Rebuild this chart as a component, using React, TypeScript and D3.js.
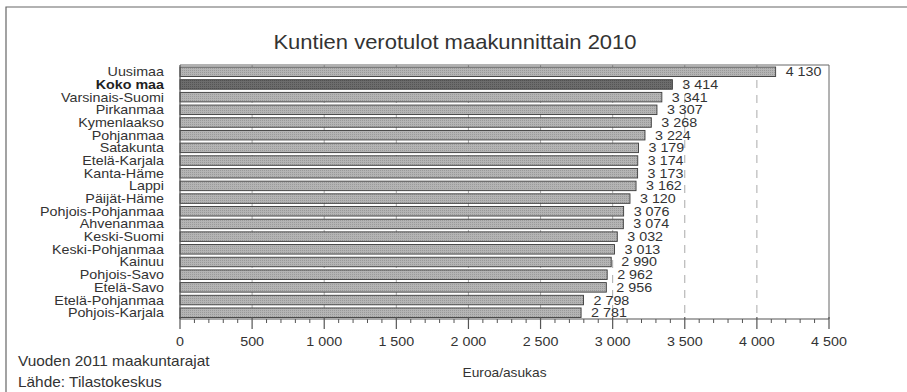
import React from "react";
import * as d3 from "d3";

const categories = [
  "Uusimaa", "Koko maa", "Varsinais-Suomi", "Pirkanmaa", "Kymenlaakso", "Pohjanmaa",
  "Satakunta", "Etelä-Karjala", "Kanta-Häme", "Lappi", "Päijät-Häme", "Pohjois-Pohjanmaa",
  "Ahvenanmaa", "Keski-Suomi", "Keski-Pohjanmaa", "Kainuu", "Pohjois-Savo", "Etelä-Savo",
  "Etelä-Pohjanmaa", "Pohjois-Karjala",
];
const values = [4130, 3414, 3341, 3307, 3268, 3224, 3179, 3174, 3173, 3162, 3120, 3076, 3074, 3032, 3013, 2990, 2962, 2956, 2798, 2781];
const highlight = "Koko maa";
const majorTicks = [0, 500, 1000, 1500, 2000, 2500, 3000, 3500, 4000, 4500];
const title = "Kuntien verotulot maakunnittain 2010";
const xLabel = "Euroa/asukas";
const notes = ["Vuoden 2011 maakuntarajat", "Lähde: Tilastokeskus"];

const W = 907, H = 392;
const left = 180, right = 829, top = 65, bottom = 319;
const FONT = "'Liberation Sans', Arial, Helvetica, sans-serif";
const fmt = (v: number) => d3.format(",")(v).replace(/,/g, " ");
const SX = 1.1;

function T(props: { x: number; y: number; size: number; anchor?: string; bold?: boolean; fill?: string; children: React.ReactNode }) {
  const { x, y, size, anchor = "start", bold = false, fill = "#333", children } = props;
  return (
    <g transform={`translate(${x},${y}) scale(${SX},1)`}>
      <text x={0} y={0} textAnchor={anchor} fontSize={size} fontWeight={bold ? "bold" : "normal"} fill={fill}>{children}</text>
    </g>
  );
}

export default function App() {
  const x = d3.scaleLinear().domain([0, 4500]).range([left, right]);
  const y = d3.scaleBand<string>().domain(categories).range([top + 0.5, bottom]).paddingInner(0.25).paddingOuter(0.12);
  const minor = d3.range(0, 4501, 100).filter((v) => v % 500 !== 0);
  return (
    <svg width={W} height={H} style={{ position: "absolute", left: 0, top: 0, background: "#fff" }} fontFamily={FONT}>
      <defs>
        <pattern id="dots" width="2" height="2" patternUnits="userSpaceOnUse">
          <rect width="2" height="2" fill="#b4b4b4" />
          <rect width="1" height="1" fill="#9a9a9a" />
        </pattern>
        <pattern id="dotsDark" width="2" height="2" patternUnits="userSpaceOnUse">
          <rect width="2" height="2" fill="#6c6c6c" />
          <rect width="1" height="1" fill="#555" />
        </pattern>
      </defs>
      {/* outer frame */}
      <path d={`M6,${H} V7 H${W}`} fill="none" stroke="#666" strokeWidth={1.2} />
      <T x={455} y={49} size={20} anchor="middle">{title}</T>
      {/* grid */}
      {majorTicks.slice(1, -1).map((t) => (
        <line key={t} x1={x(t)} x2={x(t)} y1={top} y2={bottom} stroke="#aaa" strokeWidth={1} strokeDasharray="8,7" />
      ))}
      {/* plot frame */}
      <path d={`M${left},${top} H${right} V${bottom}`} fill="none" stroke="#666" strokeWidth={1} />
      {/* bars */}
      {categories.map((c, i) => (
        <g key={c}>
          <rect x={x(0)} y={y(c)!} width={x(values[i]) - x(0)} height={y.bandwidth()}
            fill={c === highlight ? "url(#dotsDark)" : "url(#dots)"} stroke="#3a3a3a" strokeWidth={0.9} />
          <T x={x(values[i]) + 10} y={y(c)! + y.bandwidth() / 2 + 4.5} size={13}>{fmt(values[i])}</T>
          <T x={164} y={y(c)! + y.bandwidth() / 2 + 4.5} size={13} anchor="end" bold={c === highlight}
            fill={c === highlight ? "#222" : "#333"}>{c}</T>
        </g>
      ))}
      {/* axes */}
      <line x1={left} x2={left} y1={top} y2={bottom} stroke="#555" strokeWidth={1.2} />
      <line x1={left} x2={right} y1={bottom} y2={bottom} stroke="#555" strokeWidth={1.2} />
      {majorTicks.map((t) => (
        <g key={t}>
          <line x1={x(t)} x2={x(t)} y1={bottom - 2} y2={bottom + 10} stroke="#555" strokeWidth={1.2} />
          <T x={x(t)} y={346} size={13} anchor="middle">{fmt(t)}</T>
        </g>
      ))}
      {minor.map((t) => (
        <line key={t} x1={x(t)} x2={x(t)} y1={bottom} y2={bottom + 4} stroke="#555" strokeWidth={1} />
      ))}
      <T x={(left + right) / 2} y={377} size={12.5} anchor="middle">{xLabel}</T>
      <T x={18} y={366} size={14} >{notes[0]}</T>
      <T x={18} y={387} size={14}>{notes[1]}</T>
    </svg>
  );
}
